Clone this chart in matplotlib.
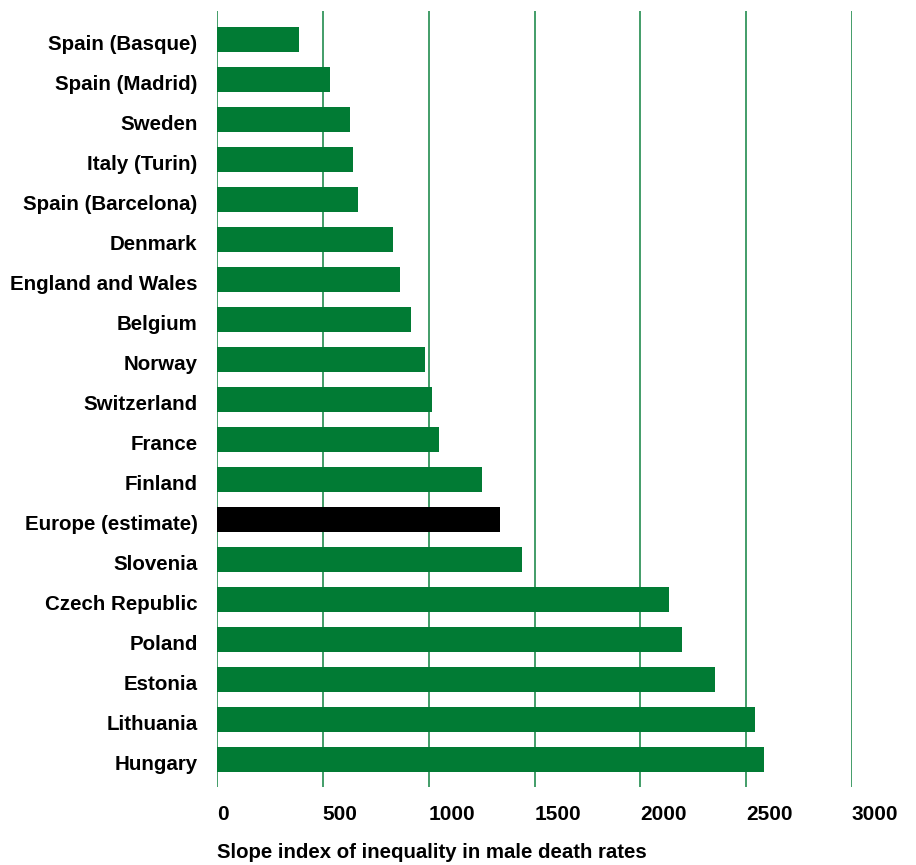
import numpy as np
import matplotlib.pyplot as plt

countries = ["Spain (Basque)", "Spain (Madrid)", "Sweden", "Italy (Turin)",
             "Spain (Barcelona)", "Denmark", "England and Wales", "Belgium",
             "Norway", "Switzerland", "France", "Finland", "Europe (estimate)",
             "Slovenia", "Czech Republic", "Poland", "Estonia", "Lithuania",
             "Hungary"]
slope_index = [387, 532, 628, 642, 666, 831, 864, 916, 982, 1015, 1048, 1254,
               1336, 1439, 2134, 2195, 2351, 2540, 2583]
xticks = [0, 500, 1000, 1500, 2000, 2500, 3000]

green = "#017b34"
plt.rcParams['font.family'] = ['Liberation Sans', 'DejaVu Sans']

fig = plt.figure(figsize=(9.16, 8.65), dpi=100)
ax = fig.add_axes([217/916, 1 - 787/865, (852 - 217)/916, (787 - 11)/865])

y = np.arange(len(countries))
colors = ["black" if c.startswith("Europe") else green for c in countries]
ax.barh(y, slope_index, height=0.625, color=colors, zorder=3)

for t in xticks:
    ax.axvline(t, color=green, linewidth=1.3, alpha=0.8, zorder=1)

ax.set_xlim(0, 3000)
ax.set_ylim(18.69, -0.7125)
ax.set_yticks(y + 0.08)
ax.set_yticklabels(countries, fontsize=14.8, fontweight="bold")
ax.set_xticks(xticks)
ax.set_xticklabels([str(t) for t in xticks], fontsize=15, fontweight="bold",
                   ha="left")
ax.tick_params(length=0)
ax.tick_params(axis="y", pad=14)
ax.tick_params(axis="x", pad=13)
for s in ax.spines.values():
    s.set_visible(False)

fig.text(217/916, 1 - 852/865, "Slope index of inequality in male death rates",
         fontsize=14.7, fontweight="bold", ha="left", va="center")

fig.savefig("out.png", dpi=100)
